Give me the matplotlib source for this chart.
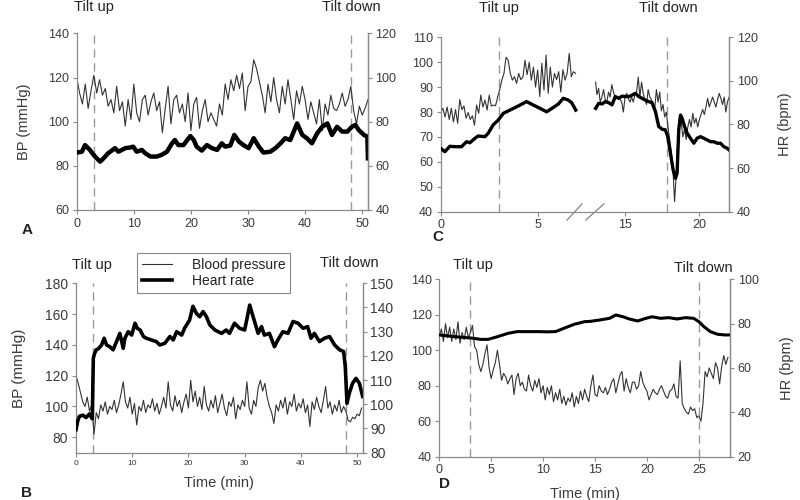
import numpy as np
import matplotlib
matplotlib.use('Agg')
import matplotlib.pyplot as plt
from matplotlib.lines import Line2D

plt.rcParams['font.family'] = ['Liberation Sans', 'DejaVu Sans']

# --- Panel A: BP (0.5 min steps, 0..51 min) and heart rate ---
a_bp = [120, 113, 108, 117, 106, 114, 121, 113, 119, 112, 115, 107, 110, 104, 116, 105, 109, 98, 110, 101,
        117, 104, 100, 110, 112, 103, 109, 113, 105, 109, 95, 106, 116, 99, 110, 112, 104, 108, 100, 113,
        96, 108, 111, 97, 105, 110, 100, 104, 101, 98, 108, 103, 117, 110, 119, 114, 121, 115, 122, 105,
        116, 118, 128, 124, 118, 112, 104, 117, 109, 120, 110, 104, 116, 108, 119, 110, 101, 114, 108, 116,
        110, 101, 109, 104, 99, 110, 96, 108, 103, 112, 106, 105, 108, 113, 107, 110, 116, 105, 99, 107,
        103, 106, 110]
a_hr_t = [0, 0.9, 1.46, 2.3, 3.2, 4.1, 4.7, 5.5, 6.7, 7.3, 8.5, 9.35, 9.9, 10.5, 11.4, 12.0, 12.9, 14.0,
          14.9, 15.8, 16.7, 17.2, 17.8, 18.7, 19.9, 20.5, 21.0, 21.9, 22.8, 23.7, 24.6, 25.4, 26.0, 26.9,
          27.6, 28.4, 29.2, 30.1, 31.0, 31.9, 32.7, 33.9, 34.8, 35.7, 36.5, 37.4, 38.6, 39.5, 40.3, 41.2,
          42.1, 43.0, 43.9, 44.7, 45.6, 46.5, 47.4, 48.2, 48.8, 49.4, 50.3, 50.9, 51.0]
a_hr = [66, 66.4, 69.4, 67.2, 64.2, 61.9, 63.4, 65.7, 68, 66.4, 68, 68.3, 68.7, 66.4, 67.2, 65.7, 64.2, 64.2,
        65, 66.4, 70.2, 71.7, 69.4, 69.4, 73.5, 71.7, 68.7, 66.9, 69.4, 68, 67.2, 70.2, 68.7, 69.2,
        74, 71, 69.4, 68, 72.5, 68.7, 66, 66.4, 68, 70.2, 72.5, 71.7, 79.2, 74, 72.5, 70.2,
        74.7, 77.7, 79.2, 74, 77.7, 75.5, 75.5, 77.7, 78.5, 76.2, 74, 73.2, 63.4]

# --- Panel B: BP (0.4 min steps) and heart rate ---
b_bp = [120, 115, 109, 103, 100, 106, 97, 101, 82, 96,
        92, 101, 97, 103, 95, 100, 98, 104, 96, 101,
        108, 116, 103, 99, 106, 95, 102, 88, 100, 97,
        104, 96, 101, 99, 105, 97, 102, 95, 100, 106,
        99, 116, 101, 97, 107, 100, 104, 96, 103, 108,
        99, 117, 103, 110, 100, 106, 98, 113, 101, 97,
        104, 99, 107, 96, 102, 108, 99, 94, 103, 100,
        106, 92, 101, 98, 104, 100, 116, 99, 95, 104,
        100, 112, 117, 110, 115, 106, 100, 96, 89, 101,
        97, 104, 99, 106, 95, 103, 100, 108, 97, 102,
        99, 105, 96, 101, 87, 103, 98, 106, 100, 96,
        104, 113, 99, 103, 95, 101, 97, 104, 96, 100,
        97, 91, 90, 93, 92, 95, 94, 99]
b_hr_t = [0, 0.3, 0.6, 1.2, 1.8, 2.4, 2.9, 3.08, 3.3, 3.6, 4.0, 4.56, 5.0, 5.44, 6.0, 6.6, 7.2, 7.8, 8.4, 8.7,
          9.3, 9.9, 10.5, 10.9, 11.4, 12.0, 12.5, 13.4, 14.3, 14.9, 15.8, 16.7, 17.3, 17.9, 18.8, 19.3, 20.2,
          20.8, 21.4, 22.0, 22.6, 23.2, 23.8, 24.7, 25.9, 26.7, 27.3, 28.2, 29.1, 30.0, 30.9, 31.5, 32.4,
          33.0, 33.5, 34.4, 35.3, 35.9, 36.8, 37.7, 38.6, 39.5, 40.4, 41.2, 41.8, 42.4, 43.3, 44.2, 45.1,
          46.0, 46.9, 47.6, 47.9, 48.2, 48.6, 49.2, 49.8, 50.4, 51.0]
b_hr = [89.5, 93, 95, 95.5, 94.5, 96, 94, 119, 121, 122.5, 123, 124.5, 127.3, 124.5, 123.8, 122.5, 125.9,
        129.3, 123.1, 127.3, 130, 128.6, 133.5, 131.4, 130.7, 128, 127.3, 126.6, 125.9, 124.5, 125.2, 128,
        126.6, 130, 128.6, 131.4, 134.8, 140.5, 137.6, 136.2, 138.3, 136.2, 132.8, 130.7, 129.3, 130.7,
        129.3, 133.5, 131.4, 130.7, 141, 136.2, 129.3, 132.1, 128.6, 129.3, 123.8, 126.6, 130, 129.3,
        134.2, 133.5, 131.4, 132.1, 127.3, 129.3, 125.9, 127.3, 128, 124.5, 122.5, 121.8, 115.6, 100.4,
        104.5, 108.7, 110.7, 108.7, 103.2]

# --- Panel C: two recording segments around a time break ---
c_bp1 = [80, 81.5, 78, 82, 77, 81.5, 76, 81, 75.5, 85, 81, 82.4, 77.5, 79.8, 77, 78.5, 74.7, 82.8, 79.5,
         86.8, 82, 84.8, 80.8, 86.8, 82.4, 82.8, 82.5, 86, 89, 92.8, 95.5, 102, 100.8, 95.5, 92.8, 94.2,
         91.5, 95.5, 93, 94, 100.8, 95, 100, 92.8, 98, 90, 96.9, 86.2, 99.6, 88.8, 102.9, 87.5, 98, 90,
         95.5, 93, 96.2, 88, 97, 92.8, 95.5, 103.5, 94.2, 96.2, 95.5]
c_hr1_t = [0, 0.21, 0.46, 0.72, 1.06, 1.32, 1.49, 1.74, 1.91, 2.26, 2.43, 2.68, 2.94, 3.20, 3.54, 3.97,
           4.39, 4.74, 5.08, 5.42, 5.76, 6.02, 6.27, 6.53, 6.70, 6.91]
c_hr1 = [69, 67.5, 70, 69.8, 69.8, 72.1, 71.6, 73.6, 74.7, 74.4, 76, 79.8, 82, 85.1, 86.6, 88.5, 90.5,
         88.9, 87.4, 85.8, 87.8, 89.4, 92, 91.2, 90, 86.6]
c_bp2 = [92, 87, 89.5, 84, 86, 89, 85, 84, 88, 86, 91, 88, 86, 85.5, 86, 85, 84, 80, 86, 87.5,
         85.5, 84, 86, 84, 87, 88, 94, 86, 92, 87.5, 85, 83, 89, 86, 85, 83, 81.5, 89, 84, 88,
         80.5, 83, 78, 80, 74, 69, 64, 57, 44, 55, 70, 78, 76, 70, 73, 69, 74, 77, 74, 79.5,
         75.5, 77.5, 74, 77, 79, 81, 79, 82, 85.5, 82, 84, 86, 84, 82, 85, 87.5, 85.5, 83, 86, 80,
         84, 86]
c_hr2_t = [12.97, 13.20, 13.42, 13.65, 13.87, 14.10, 14.32, 14.55, 14.77, 15.0, 15.23, 15.45, 15.68,
           15.90, 16.13, 16.35, 16.58, 16.80, 17.03, 17.25, 17.48, 17.70, 17.86, 18.04, 18.22, 18.38,
           18.49, 18.60, 18.72, 18.83, 18.99, 19.17, 19.39, 19.62, 19.84, 20.07, 20.29, 20.52, 20.74,
           20.97, 21.19, 21.42, 21.64, 21.87, 22.0]
c_hr2 = [87.4, 89.7, 89.4, 90.5, 90, 89, 92.8, 92, 93, 92.8, 92.8, 93.5, 94.3, 92.8, 92, 91.2, 90.5, 90,
         85.9, 79.1, 77.8, 77.5, 74.4, 66.8, 59.2, 55.3, 57.6, 77.5, 84.3, 82.8, 79.1, 76, 73.7, 71.4,
         73.7, 74.4, 73.7, 72.9, 72.1, 72.1, 71.4, 71.4, 69.8, 69.1, 68.3]

# --- Panel D: BP (0.2 min steps) and heart rate ---
d_bp = [108, 112, 105, 115, 107, 113, 105, 112, 106, 116,
        104, 110, 106, 113, 107, 110, 114, 102, 100, 92,
        88, 92, 98, 103, 90, 84, 89, 93, 100, 92,
        83, 87, 85, 81, 84, 86, 75, 84, 87, 80,
        82, 78, 77, 86, 80, 77, 83, 79, 84, 76,
        80, 72, 79, 75, 80, 71, 76, 72, 78, 70,
        74, 69, 73, 71, 76, 68, 74, 70, 77, 72,
        78, 74, 71, 80, 86, 75, 74, 80, 77, 76,
        79, 75, 78, 82, 84, 76, 81, 86, 88, 77,
        84, 79, 76, 82, 82, 78, 80, 88, 82, 79,
        77, 72, 75, 78, 76, 75, 78, 80, 77, 74,
        73, 77, 78, 81, 74, 73, 94, 70, 67, 65,
        64, 68, 66, 67, 62, 63, 60, 70, 88, 85,
        90, 87, 84, 93, 90, 81, 91, 97, 92, 96]
d_hr_t = [0, 1.5, 3.1, 4.0, 4.7, 5.6, 6.6, 7.5, 8.5, 9.5, 10.4, 11.2, 12.0, 13.0, 14.0, 14.5, 15.4, 16.4,
          17.0, 17.7, 18.3, 19.1, 19.9, 20.5, 21.3, 22.1, 22.9, 23.7, 24.5, 25.0, 25.5, 26.1, 26.8, 27.5, 28.0]
d_hr = [74.9, 74.1, 73.5, 72.9, 72.9, 74.1, 75.6, 76.4, 76.4, 76.4, 76.3, 76.4, 77.9, 79.7, 80.9, 81,
        81.6, 82.4, 83.9, 83.1, 82.1, 81.2, 82.4, 83.1, 82.4, 82.7, 82.1, 82.7, 82.4, 80.9, 78.6, 76.4,
        75.2, 74.9, 74.9]

BP_COLOR = '#333333'
AX_COLOR = '#8a8a8a'
TXT = '#3a3a3a'
DASH = '#9a9a9a'

fig = plt.figure(figsize=(8, 5), dpi=100)
axA = fig.add_axes([0.0959, 0.58, 0.364, 0.3533])
axC = fig.add_axes([0.551, 0.5767, 0.3604, 0.3487])
axB = fig.add_axes([0.095, 0.0947, 0.3584, 0.3387])
axD = fig.add_axes([0.5491, 0.0867, 0.3634, 0.3547])


def style(ax, xfs=9, yfs=9):
    ax2 = ax.twinx()
    for a in (ax, ax2):
        a.spines['top'].set_visible(False)
        for s in ('left', 'right', 'bottom'):
            a.spines[s].set_color(AX_COLOR)
            a.spines[s].set_linewidth(0.9)
        a.tick_params(direction='out', length=3, width=0.8, color=AX_COLOR,
                      labelcolor=TXT, pad=2.5, labelsize=yfs)
    ax.tick_params(axis='x', labelsize=xfs)
    ax2.spines['left'].set_visible(False)
    ax2.spines['bottom'].set_visible(False)
    return ax2


# Panel A
axA2 = style(axA)
axA.set_xlim(0, 51)
axA.set_ylim(60, 140)
axA2.set_ylim(40, 120)
axA.set_xticks(range(0, 51, 10))
axA.set_yticks(range(60, 141, 20))
axA2.set_yticks(range(40, 121, 20))
for x in (3, 48):
    axA.axvline(x, color=DASH, lw=1, ls=(0, (6, 4)))
axA.plot(np.linspace(0, 51, len(a_bp)), a_bp, color=BP_COLOR, lw=0.8)
axA2.plot(a_hr_t, a_hr, color='black', lw=3.2)
axA.set_ylabel('BP (mmHg)', fontsize=10.5, color=TXT)
axA.yaxis.set_label_coords(-0.157, 0.5)

# Panel B
axB2 = style(axB, xfs=6, yfs=10)
axB.set_xlim(0, 51)
axB.set_ylim(70, 180)
axB2.set_ylim(80, 150)
axB.set_xticks(range(0, 51, 10))
axB.set_yticks(range(80, 181, 20))
axB2.set_yticks(range(80, 151, 10))
for x in (3, 48):
    axB.axvline(x, color=DASH, lw=1, ls=(0, (6, 4)))
axB.plot(np.linspace(0, 50.8, len(b_bp)), b_bp, color=BP_COLOR, lw=0.8)
axB2.plot(b_hr_t, b_hr, color='black', lw=2.6)
axB.set_ylabel('BP (mmHg)', fontsize=11, color=TXT)
axB.yaxis.set_label_coords(-0.174, 0.5)
axB.set_xlabel('Time (min)', fontsize=10.5, color=TXT, labelpad=6)

# Panel C: piecewise time scale with a break between segments
c_brk_t = [-50, 7, 13, 60]
c_brk_p = [-975, 136.5, 154.7, 850.3]


def c_fwd(t):
    return np.interp(t, c_brk_t, c_brk_p)


def c_inv(p):
    return np.interp(p, c_brk_p, c_brk_t)


axC2 = style(axC)
axC.set_xscale('function', functions=(c_fwd, c_inv))
axC.set_xlim(0, 22)
axC.set_ylim(40, 110)
axC2.set_ylim(40, 120)
axC.set_xticks([0, 5, 15, 20])
axC.set_xticklabels(['0', '5', '15', '20'])
axC.set_yticks(range(40, 111, 10))
axC2.set_yticks(range(40, 121, 20))
for x in (3, 17.8):
    axC.axvline(x, color=DASH, lw=1, ls=(0, (6, 4)))
axC.plot(np.linspace(0, 6.9, len(c_bp1)), c_bp1, color=BP_COLOR, lw=0.8)
axC.plot(np.linspace(12.97, 22.0, len(c_bp2)), c_bp2, color=BP_COLOR, lw=0.8)
axC2.plot(c_hr1_t, c_hr1, color='black', lw=2.4)
axC2.plot(c_hr2_t, c_hr2, color='black', lw=2.4)
for x0, x1 in ((0.438, 0.49), (0.503, 0.566)):
    axC.plot([x0, x1], [-0.048, 0.045], transform=axC.transAxes, color='#777777',
             lw=0.8, clip_on=False)
axC2.set_ylabel('HR (bpm)', fontsize=10.5, color=TXT)
axC2.yaxis.set_label_coords(1.17, 0.5)

# Panel D
axD2 = style(axD)
axD.set_xlim(0, 28)
axD.set_ylim(40, 140)
axD2.set_ylim(20, 100)
axD.set_xticks(range(0, 26, 5))
axD.set_yticks(range(40, 141, 20))
axD2.set_yticks(range(20, 101, 20))
for x in (3, 25):
    axD.axvline(x, color=DASH, lw=1, ls=(0, (6, 4)))
axD.plot(np.linspace(0, 27.8, len(d_bp)), d_bp, color=BP_COLOR, lw=0.8)
axD2.plot(d_hr_t, d_hr, color='black', lw=2.2)
axD2.set_ylabel('HR (bpm)', fontsize=10.5, color=TXT)
axD2.yaxis.set_label_coords(1.172, 0.5)
axD.set_xlabel('Time (min)', fontsize=10.5, color=TXT, labelpad=8)

# Tilt annotations (pixel centres converted to figure fractions)
tilt_labels = [('Tilt up', 94, 7), ('Tilt down', 351, 7), ('Tilt up', 499, 8), ('Tilt down', 668, 8),
               ('Tilt up', 92, 265), ('Tilt down', 349, 263), ('Tilt up', 473, 265), ('Tilt down', 703, 268)]
for s, px, py in tilt_labels:
    fig.text(px / 800, 1 - py / 500, s, ha='center', va='center', fontsize=10.5, color='#222222')

for s, px, py in (('A', 27, 230), ('C', 438, 237), ('B', 26, 493), ('D', 445, 484)):
    fig.text(px / 800, 1 - py / 500, s, ha='center', va='center', fontsize=11,
             fontweight='bold', color='#222222')

handles = [Line2D([], [], color=BP_COLOR, lw=0.8), Line2D([], [], color='black', lw=2.6)]
leg = fig.legend(handles, ['Blood pressure', 'Heart rate'], loc='center',
                 bbox_to_anchor=(0.267, 0.454), fancybox=False, edgecolor='#888888',
                 fontsize=10, handlelength=2.2, handletextpad=1.4, labelspacing=0.15,
                 borderpad=0.35, framealpha=1)
leg.get_frame().set_linewidth(0.8)
for t in leg.get_texts():
    t.set_color('#222222')

fig.savefig('out.png', dpi=100)
